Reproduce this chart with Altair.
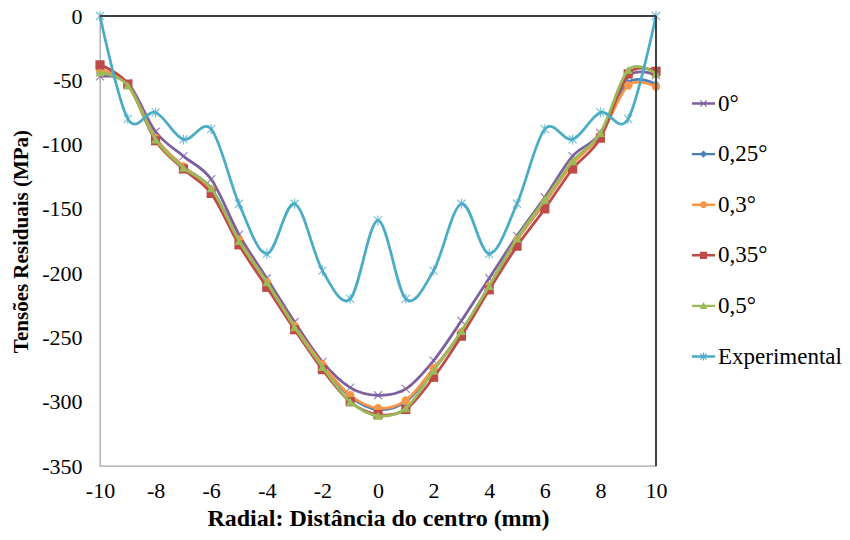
import altair as alt
import pandas as pd

# Radial positions (mm)
x_mm = list(range(-10, 11))

series = ["0°", "0,25°", "0,3°", "0,35°", "0,5°", "Experimental"]

# Residual stress (MPa) per series
s_0 = [-47, -52, -90, -109, -127, -170, -204, -238, -269, -289, -295,
       -290, -268, -237, -204, -171, -141, -109, -91, -47, -46]
s_025 = [-42, -53, -95, -117, -134, -174, -207, -241, -272, -296, -306,
         -300, -275, -246, -210, -174, -145, -114, -92, -52, -53]
s_03 = [-42, -53, -95, -117, -135, -174, -207, -241, -271, -295, -305,
        -299, -274, -246, -210, -174, -145, -115, -93, -54, -55]
s_035 = [-38, -53, -97, -119, -138, -178, -211, -244, -275, -300, -310,
         -306, -281, -249, -213, -179, -150, -119, -95, -45, -43]
s_05 = [-44, -54, -96, -118, -134, -175, -207, -242, -273, -300, -311,
        -305, -276, -245, -210, -173, -143, -113, -91, -42, -45]
s_exp = [0, -80, -75, -96, -88, -146, -185, -146, -198, -220, -159,
         -220, -198, -146, -185, -146, -88, -96, -75, -80, 0]

colors = ["#7D60A0", "#4A7EBB", "#F79646", "#BE4B48", "#9BBB59", "#4BACC6"]

# Marker shape and fill style for each series on the curves
marker_shapes = [
    "M-1,-1L1,1M-1,1L1,-1",
    "diamond",
    "circle",
    "square",
    "triangle-up",
    "M-1,-1L1,1M-1,1L1,-1M0,-1.25L0,1.25",
]
marker_filled = [False, True, True, True, True, False]
marker_sizes = [64, 60, 70, 85, 85, 64]

# Legend symbols, drawn as filled outlines: a bar for the line and the marker
LINE_BAR = "M-2.9,-0.3H2.9V0.3H-2.9Z"
CROSS = ("M-0.885,-0.715L-0.715,-0.885L0.885,0.715L0.715,0.885Z"
         "M-0.885,0.715L0.715,-0.885L0.885,-0.715L-0.715,0.885Z")
legend_shapes = [
    LINE_BAR + CROSS,
    LINE_BAR + "M0,-0.9L0.9,0L0,0.9L-0.9,0Z",
    LINE_BAR + "M-0.85,0A0.85,0.85,0,1,1,0.85,0A0.85,0.85,0,1,1,-0.85,0Z",
    LINE_BAR + "M-0.9,-0.9H0.9V0.9H-0.9Z",
    LINE_BAR + "M0,-1L1,0.8H-1Z",
    LINE_BAR + CROSS + "M-0.15,-1H0.15V1H-0.15Z",
]

values = [s_0, s_025, s_03, s_035, s_05, s_exp]
rows = []
for name, vals in zip(series, values):
    for xv, v in zip(x_mm, vals):
        rows.append({"x": xv, "valor": v, "serie": name})
df = pd.DataFrame(rows)

FONT = "Liberation Serif"
PLAIN_LABEL = "'' + datum.value"

x_enc = alt.X(
    "x:Q",
    scale=alt.Scale(domain=[-10, 10], nice=False, zero=False),
    axis=alt.Axis(
        values=list(range(-10, 11, 2)),
        labelExpr=PLAIN_LABEL,
        title="Radial: Distância do centro (mm)",
        grid=False, domain=False, ticks=False, tickSize=0,
        labelPadding=14, labelFlush=False, labelOverlap=False,
        labelFont=FONT, labelFontSize=22, labelColor="#000000",
        titleFont=FONT, titleFontSize=24, titleFontWeight="bold",
        titleColor="#000000", titlePadding=5,
    ),
)
y_enc = alt.Y(
    "valor:Q",
    scale=alt.Scale(domain=[-350, 0], nice=False, zero=False),
    axis=alt.Axis(
        values=list(range(-350, 1, 50)),
        labelExpr=PLAIN_LABEL,
        title="Tensões Residuais (MPa)",
        grid=False, domain=False, ticks=False, tickSize=0,
        labelPadding=18, labelFlush=False, labelOverlap=False,
        labelFont=FONT, labelFontSize=22, labelColor="#000000",
        titleFont=FONT, titleFontSize=21, titleFontWeight="bold",
        titleColor="#000000", titlePadding=10,
    ),
)

base = alt.Chart(df).encode(x=x_enc, y=y_enc)

layers = []
# Each series: smoothed line followed by its markers
for name, col, shp, filled, size in zip(series, colors, marker_shapes,
                                        marker_filled, marker_sizes):
    sub = base.transform_filter(alt.FieldEqualPredicate(field="serie", equal=name))
    layers.append(
        sub.mark_line(interpolate="cardinal", strokeWidth=2.75, color=col)
    )
    if filled:
        pts = sub.mark_point(shape=shp, filled=True, size=size, opacity=1, color=col)
    else:
        pts = sub.mark_point(shape=shp, filled=False, size=size, color=col,
                             strokeWidth=1.2, opacity=0.75)
    layers.append(pts)

# Horizontal axis line at zero and right border
layers.append(
    alt.Chart(df).mark_rule(color="#404040", strokeWidth=1.5).encode(y=alt.datum(0))
)
layers.append(
    alt.Chart(df).mark_rule(color="#404040", strokeWidth=1.5).encode(x=alt.datum(10))
)

# Legend carrier: invisible points whose legend symbols stay opaque
legend_def = alt.Legend(
    title=None, orient="none", legendX=592, legendY=76,
    labelFont=FONT, labelFontSize=23, labelColor="#000000",
    symbolSize=64, symbolOpacity=1, labelOffset=3,
    rowPadding=26.6, padding=0,
)
layers.append(
    base.mark_point(filled=True, opacity=0).encode(
        color=alt.Color("serie:N", scale=alt.Scale(domain=series, range=colors),
                        legend=legend_def),
        shape=alt.Shape("serie:N", scale=alt.Scale(domain=series, range=legend_shapes),
                        legend=legend_def),
    )
)

chart = alt.layer(*layers).properties(
    width=556, height=450,
    padding={"left": 100, "top": 16, "right": 194, "bottom": 74},
    autosize=alt.AutoSizeParams(type="none"),
    background="#FFFFFF",
).configure_view(
    stroke="#A6A6A6", strokeWidth=1.3
)

chart.save("out.html", embed_options={"renderer": "svg", "actions": False})
